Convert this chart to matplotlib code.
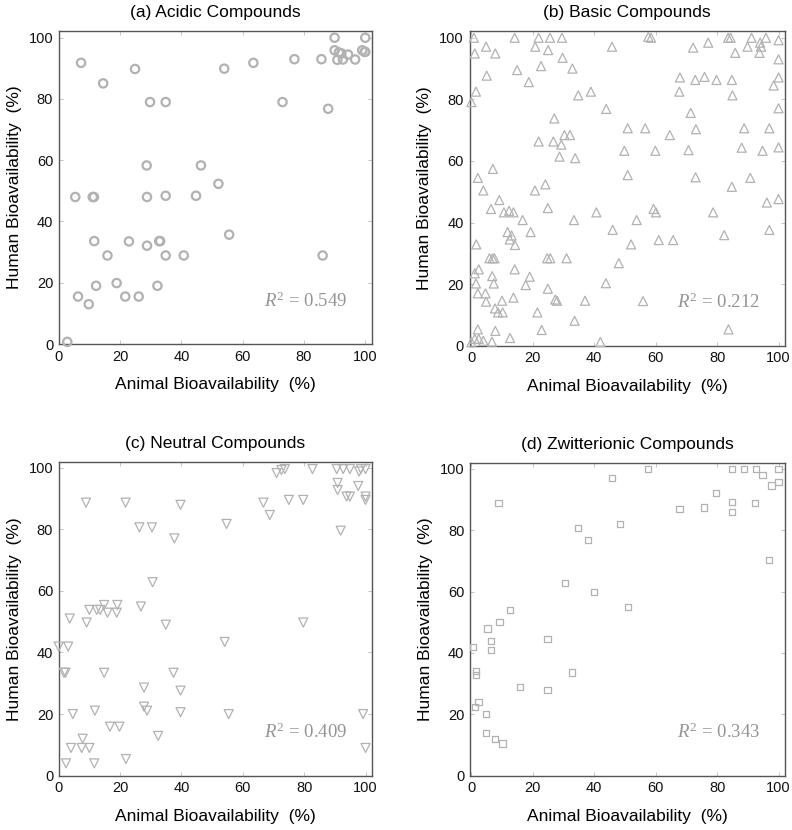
import matplotlib
matplotlib.use("Agg")
import matplotlib.pyplot as plt

plt.rcParams['font.family'] = ['Liberation Sans', 'DejaVu Sans']
plt.rcParams['mathtext.fontset'] = 'custom'
plt.rcParams['mathtext.rm'] = 'Liberation Serif'
plt.rcParams['mathtext.it'] = 'Liberation Serif:italic'

# ---------------- data ----------------
acid_x = [2.8, 6.3, 5.4, 7.3, 9.8, 11.1, 11.5, 11.6, 12.2, 14.5, 15.9, 18.9, 21.7, 22.9,
          24.9, 26.1, 28.7, 28.8, 28.8, 29.8, 32.2, 32.8, 33.1, 34.9, 34.9, 34.9, 40.8,
          44.8, 46.4, 52.1, 54.0, 55.6, 63.5, 73.0, 76.9, 85.7, 86.1, 87.9, 90.0, 90.0,
          90.9, 91.4, 92.2, 92.7, 94.4, 96.7, 99.0, 100.0, 99.8, 100.0]
acid_y = [0.7, 15.5, 48.0, 91.8, 13.0, 48.0, 48.0, 33.6, 19.0, 85.1, 28.9, 19.9, 15.5, 33.5,
          89.8, 15.5, 58.3, 48.0, 32.1, 79.0, 19.0, 33.6, 33.6, 79.0, 48.4, 28.9, 28.9,
          48.4, 58.3, 52.3, 89.9, 35.7, 91.8, 79.0, 93.0, 93.0, 28.9, 76.8, 100.0, 95.9,
          92.8, 95.2, 94.9, 92.9, 94.5, 92.9, 95.9, 100.0, 95.4, 95.4]

basic_x = [0.8, 14.1, 21.9, 25.6, 29.5, 57.6, 58.5, 83.6, 84.4, 91.2, 95.9,
           1.1, 4.8, 7.8, 1.5, 0.0, 5.0, 14.9, 18.7, 20.8, 25.0, 22.7, 29.7, 32.9, 34.8,
           38.9, 43.9, 45.8, 27.0, 21.9, 26.7, 29.3, 30.3, 32.1, 28.7, 33.8, 2.1, 7.0,
           3.9, 9.1, 6.4, 10.6, 12.3, 13.7, 20.7, 24.1, 24.9, 16.7, 11.8, 13.1, 12.5,
           14.2, 19.3, 1.6, 5.9, 6.9, 7.5, 6.8, 7.3, 1.1, 2.4, 1.5, 2.1, 4.6, 4.8, 7.7,
           8.7, 10.2, 10.0, 7.8, 2.1, 1.1, 2.4, 3.9, 0.0, 6.7, 12.6, 14.1, 13.7, 17.7,
           19.0, 21.5, 22.9, 24.9, 24.7, 25.7, 27.3, 27.9, 31.0, 33.4, 33.6, 37.0, 40.7,
           42.0, 43.8, 46.0, 48.0, 49.8, 50.9, 50.9, 52.0, 53.8, 55.9, 56.6, 59.3, 60.1,
           59.9, 61.0, 64.6, 65.7, 67.7, 67.9, 70.7, 71.4, 72.2, 73.0, 73.1, 72.9, 75.9,
           77.1, 78.7, 79.8, 82.3, 83.7, 84.8, 84.8, 85.0, 85.9, 88.0, 88.8, 89.9, 90.8,
           94.0, 94.3, 93.8, 94.8, 96.2, 97.0, 97.0, 98.4, 100.0, 100.0, 100.0, 100.0,
           100.0, 100.0]
basic_y = [100.0, 100.0, 100.0, 100.0, 100.0, 100.3, 100.0, 100.0, 100.0, 100.0, 100.0,
           94.9, 97.1, 94.9, 82.5, 79.1, 87.7, 89.5, 85.6, 97.1, 96.0, 90.8, 93.5, 90.0, 81.3,
           82.5, 76.9, 97.1, 73.8, 66.3, 66.3, 65.3, 68.4, 68.4, 61.4, 60.9, 54.5, 57.4,
           50.4, 47.3, 44.4, 43.3, 43.8, 43.3, 50.4, 52.4, 44.7, 40.8, 36.9, 35.8, 34.5,
           32.7, 36.9, 32.9, 28.4, 28.4, 28.4, 22.6, 20.2, 23.5, 24.8, 20.2, 17.0, 17.0, 14.3,
           12.1, 10.8, 10.8, 14.6, 4.8, 5.3, 2.2, 2.2, 1.6, 1.1, 1.3, 2.5, 24.8, 15.6, 19.7,
           22.4, 10.8, 5.1, 18.5, 28.4, 28.4, 15.0, 14.6, 28.4, 40.8, 8.1, 14.6, 43.3,
           1.2, 20.3, 37.6, 26.8, 63.3, 70.6, 55.4, 32.9, 40.8, 14.5, 70.6, 44.4, 43.3,
           63.3, 34.3, 68.4, 34.3, 82.5, 87.1, 63.5, 75.6, 96.8, 54.7, 70.3, 86.3, 87.3,
           98.4, 43.3, 86.3, 35.9, 5.3, 86.3, 51.6, 81.3, 95.1, 64.3, 70.6, 97.1, 54.5,
           98.4, 97.1, 95.1, 63.3, 46.5, 70.6, 37.6, 84.5, 99.2, 93.0, 87.1, 77.1,
           64.4, 47.6]

neut_x = [0.0, 1.7, 2.2, 3.1, 3.6, 2.4, 4.0, 4.6, 7.8, 7.5, 8.9, 9.1, 10.0, 10.0, 11.6,
          11.8, 12.4, 13.5, 14.8, 14.8, 15.9, 16.7, 19.8, 18.9, 19.1, 21.8, 21.9, 26.3,
          26.8, 27.8, 27.8, 28.8, 30.4, 30.6, 32.4, 34.9, 37.4, 37.7, 39.7, 39.7, 39.7,
          54.1, 54.7, 55.4, 66.7, 68.8, 71.0, 72.6, 73.7, 82.7, 75.0, 79.7, 79.7, 90.6,
          92.7, 94.9, 90.9, 90.9, 91.9, 93.8, 94.9, 97.6, 97.9, 98.5, 100.0, 99.2, 100.0,
          100.0, 100.0]
neut_y = [41.9, 33.4, 33.4, 41.9, 51.0, 4.0, 9.0, 20.0, 12.0, 9.0, 88.6, 49.7, 53.8, 9.0,
          4.0, 21.1, 53.8, 53.8, 55.4, 33.4, 52.9, 15.9, 15.9, 52.9, 55.4, 88.6, 5.4, 80.6,
          54.9, 28.6, 22.4, 21.1, 80.6, 62.8, 12.9, 49.0, 33.4, 77.0, 87.9, 27.6, 20.6,
          43.4, 81.7, 20.0, 88.6, 84.6, 98.2, 99.2, 99.5, 99.5, 89.5, 89.5, 49.7, 99.5,
          99.5, 99.5, 95.0, 92.7, 79.5, 90.6, 90.6, 94.0, 98.7, 99.5, 99.5, 20.0, 9.0,
          90.6, 89.5]

zwit_x = [0.5, 1.5, 1.5, 1.1, 2.4, 4.8, 4.8, 5.3, 6.4, 6.4, 7.8, 8.9, 9.2, 10.2, 12.7,
          15.9, 24.8, 24.8, 30.6, 32.9, 34.7, 37.9, 39.9, 45.9, 48.5, 50.9, 57.4, 67.8,
          75.8, 79.6, 84.8, 84.8, 84.8, 88.8, 92.4, 92.6, 94.8, 97.7, 97.0, 100.0, 100.0]
zwit_y = [41.9, 34.2, 32.8, 22.3, 24.1, 20.1, 14.0, 48.0, 44.0, 40.9, 11.9, 88.9, 50.1,
          10.5, 54.0, 29.0, 44.5, 27.9, 62.8, 33.6, 80.6, 76.7, 59.9, 97.0, 81.9, 55.0,
          100.0, 87.0, 87.4, 92.0, 100.0, 89.1, 85.9, 100.0, 88.9, 100.0, 97.9, 94.6,
          70.2, 100.0, 95.8]

titles = ["(a) Acidic Compounds", "(b) Basic Compounds",
          "(c) Neutral Compounds", "(d) Zwitterionic Compounds"]
r2_values = ["0.549", "0.212", "0.409", "0.343"]
ticks = [0, 20, 40, 60, 80, 100]

# ---------------- figure ----------------
fig = plt.figure(figsize=(7.92, 8.30), dpi=100)
W, H = 792.0, 830.0

def px_axes(l, r, t, b):
    return fig.add_axes([l / W, 1 - b / H, (r - l) / W, (b - t) / H])

axes = [px_axes(58.7, 372.0, 30.7, 344.0),
        px_axes(469.5, 785.0, 31.0, 345.7),
        px_axes(58.7, 372.3, 462.3, 775.7),
        px_axes(470.0, 785.0, 462.7, 775.7)]
xlims = [(0, 102.2), (-0.6, 102.1), (0, 102.2), (-0.4, 102.1)]
ylims = [(0, 102.3), (0, 102.2), (0, 101.7), (0, 102.0)]

series = [(acid_x, acid_y, 'o', 36, 1.6),
          (basic_x, basic_y, '^', 42, 0.9),
          (neut_x, neut_y, 'v', 42, 0.9),
          (zwit_x, zwit_y, 's', 20, 0.9)]

mk_color = '#b2b2b2'
for i, ax in enumerate(axes):
    xs, ys, m, s, lw = series[i]
    ax.scatter(xs, ys, marker=m, s=s, facecolors='none', edgecolors=mk_color,
               linewidths=lw, clip_on=False, zorder=3)
    ax.set_xlim(*xlims[i])
    ax.set_ylim(*ylims[i])
    ax.set_xticks(ticks)
    ax.set_yticks(ticks)
    ax.tick_params(direction='in', length=3, width=0.6, color='#bbbbbb',
                   top=True, right=True, labelsize=10.5, labelcolor='#111111', pad=4)
    for sp in ax.spines.values():
        sp.set_color('#555555')
        sp.set_linewidth(1.0)
    ax.set_xlabel("Animal Bioavailability  (%)", fontsize=12.5, labelpad=10)
    ax.set_ylabel("Human Bioavailability  (%)", fontsize=12.5, labelpad=5)
    ax.set_title(titles[i], fontsize=12.5, pad=10)
    ax.text(94, 14, r"$R^2$ = " + r2_values[i], ha='right', va='center',
            fontsize=13.5, color='#959595', family='Liberation Serif')

fig.savefig("out.png", dpi=100)
